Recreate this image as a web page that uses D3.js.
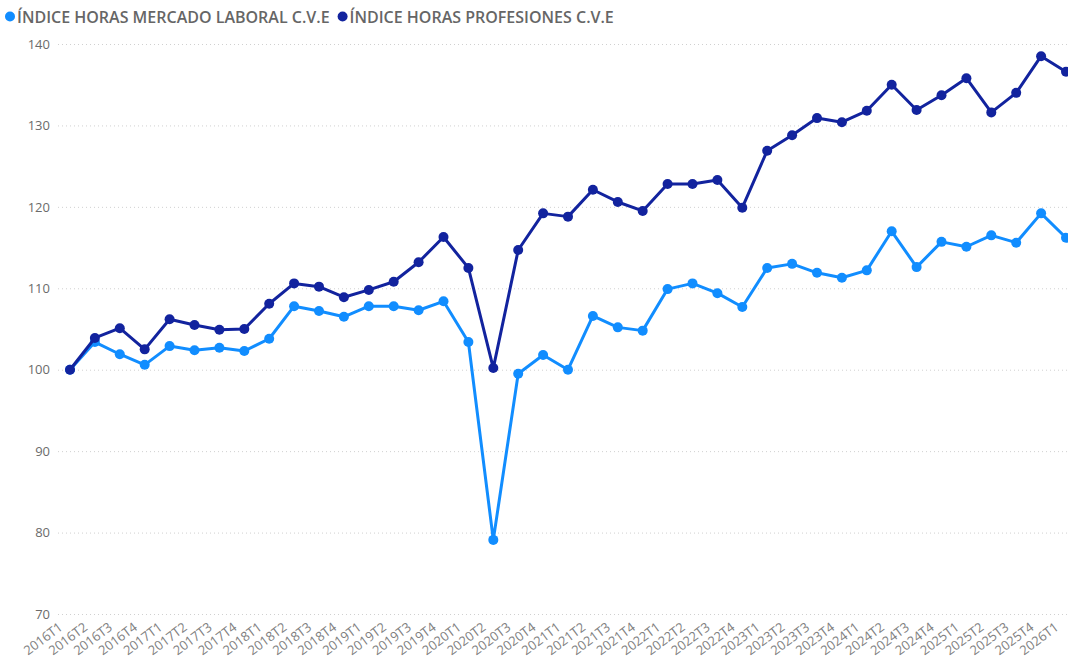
<!DOCTYPE html>
<html>
<head>
<meta charset="utf-8">
<script src="https://cdn.jsdelivr.net/npm/d3@7"></script>
<style>
  html, body { margin: 0; padding: 0; background: #fff; }
  svg { display: block; }
</style>
</head>
<body>
<svg id="chart" width="1068" height="660"></svg>
<script>
const quarters = [
  "2016T1","2016T2","2016T3","2016T4",
  "2017T1","2017T2","2017T3","2017T4",
  "2018T1","2018T2","2018T3","2018T4",
  "2019T1","2019T2","2019T3","2019T4",
  "2020T1","2020T2","2020T3","2020T4",
  "2021T1","2021T2","2021T3","2021T4",
  "2022T1","2022T2","2022T3","2022T4",
  "2023T1","2023T2","2023T3","2023T4",
  "2024T1","2024T2","2024T3","2024T4",
  "2025T1","2025T2","2025T3","2025T4",
  "2026T1"
];
const seriesNames = ["ÍNDICE HORAS MERCADO LABORAL C.V.E", "ÍNDICE HORAS PROFESIONES C.V.E"];
const mercadoLaboral = [
  100.0, 103.4, 101.9, 100.6,
  102.9, 102.4, 102.7, 102.3,
  103.8, 107.8, 107.2, 106.5,
  107.8, 107.8, 107.3, 108.4,
  103.4, 79.1, 99.5, 101.8,
  100.0, 106.6, 105.2, 104.8,
  109.9, 110.6, 109.4, 107.7,
  112.5, 113.0, 111.9, 111.3,
  112.2, 117.0, 112.6, 115.7,
  115.1, 116.5, 115.6, 119.2,
  116.2
];
const profesiones = [
  100.0, 103.9, 105.1, 102.5,
  106.2, 105.5, 104.9, 105.0,
  108.1, 110.6, 110.2, 108.9,
  109.8, 110.8, 113.2, 116.3,
  112.5, 100.2, 114.7, 119.2,
  118.8, 122.1, 120.6, 119.5,
  122.8, 122.8, 123.3, 119.9,
  126.9, 128.8, 130.9, 130.4,
  131.8, 135.0, 131.9, 133.7,
  135.8, 131.6, 134.0, 138.5,
  136.6
];
const yTicks = [70, 80, 90, 100, 110, 120, 130, 140];
const colors = ["#118DFF", "#12239E"];

const svg = d3.select("#chart");
const font = "'Open Sans', 'Noto Sans', sans-serif";

const x = d3.scalePoint().domain(quarters).range([70, 1066]);
const y = d3.scaleLinear().domain([70, 140]).range([614, 44]);

// gridlines + y labels
const yAxis = d3.axisLeft(y).tickValues(yTicks).tickSize(0).tickPadding(8);
const gy = svg.append("g").attr("transform", "translate(58,0)").call(yAxis);
gy.select(".domain").remove();
gy.selectAll(".tick text")
  .attr("fill", "#6b6b6b")
  .style("font-family", font)
  .style("font-size", "13px");
gy.selectAll(".tick").append("line")
  .attr("x1", 0).attr("x2", 1068 - 58)
  .attr("stroke", "#d0d0d0")
  .attr("stroke-width", 1)
  .attr("stroke-dasharray", "1,3");

// x axis labels
const xAxis = d3.axisBottom(x).tickSize(0).tickPadding(0);
const gx = svg.append("g").attr("transform", "translate(0,614)").call(xAxis);
gx.select(".domain").remove();
gx.selectAll(".tick text")
  .attr("fill", "#808080")
  .style("font-family", font)
  .style("font-size", "13px")
  .attr("text-anchor", "end")
  .attr("dy", 0)
  .attr("y", 0)
  .attr("transform", "translate(-7,15) rotate(-37)");

// lines
const series = [mercadoLaboral, profesiones];
const line = d3.line().x((d, i) => x(quarters[i])).y(d => y(d));
series.forEach((vals, si) => {
  svg.append("path")
    .datum(vals)
    .attr("fill", "none")
    .attr("stroke", colors[si])
    .attr("stroke-width", 3)
    .attr("stroke-linejoin", "round")
    .attr("d", line);
  svg.append("g").selectAll("circle")
    .data(vals)
    .join("circle")
    .attr("cx", (d, i) => x(quarters[i]))
    .attr("cy", d => y(d))
    .attr("r", 5)
    .attr("fill", colors[si]);
});

// legend
const legend = svg.append("g");
let lx = 10;
seriesNames.forEach((name, i) => {
  legend.append("circle").attr("cx", lx).attr("cy", 16.5).attr("r", 5).attr("fill", colors[i]);
  const t = legend.append("text")
    .attr("x", lx + 7).attr("y", 22.5)
    .attr("fill", "#666")
    .style("font-family", font)
    .style("font-size", "16px")
    .style("font-weight", "600")
    .text(name);
  lx += 7 + t.node().getComputedTextLength() + 13;
});
</script>
</body>
</html>
